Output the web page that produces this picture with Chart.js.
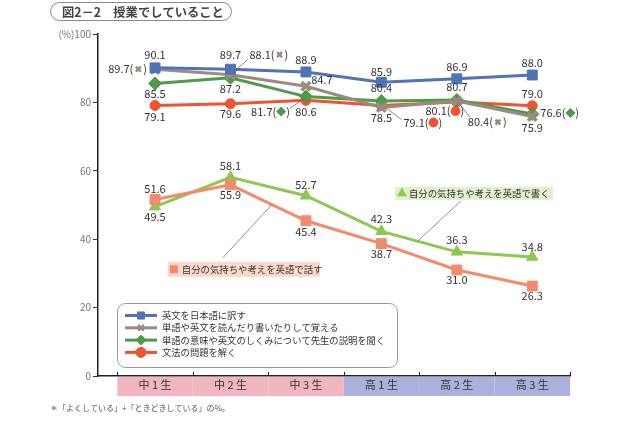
<!DOCTYPE html>
<html><head><meta charset="utf-8">
<script src="https://cdn.jsdelivr.net/npm/chart.js@4.4.1/dist/chart.umd.min.js"></script>
<style>html,body{margin:0;padding:0;background:#fff}canvas{display:block}</style>
</head><body>
<canvas id="c" width="640" height="426"></canvas>
<script>
// ---- data ----
const categories = ['中 1 生','中 2 生','中 3 生','高 1 生','高 2 生','高 3 生'];
const yTickValues = [0, 20, 40, 60, 80, 100];
const seriesNames = [
  '英文を日本語に訳す',
  '単語や英文を読んだり書いたりして覚える',
  '単語の意味や英文のしくみについて先生の説明を聞く',
  '文法の問題を解く',
  '自分の気持ちや考えを英語で話す',
  '自分の気持ちや考えを英語で書く'
];
const translateJp = [90.1, 89.7, 88.9, 85.9, 86.9, 88.0];
const memorize    = [89.7, 88.1, 84.7, 78.5, 80.4, 75.9];
const listenExpl  = [85.5, 87.2, 81.7, 80.4, 80.7, 76.6];
const grammar     = [79.1, 79.6, 80.6, 79.1, 80.1, 79.0];
const speakOwn    = [51.6, 55.9, 45.4, 38.7, 31.0, 26.3];
const writeOwn    = [49.5, 58.1, 52.7, 42.3, 36.3, 34.8];
const titleText = '図2－2　授業でしていること';
const noteText = '＊「よくしている」+「ときどきしている」の%。';

// ---- styles ----
const colors = ['#4f73b6','#9b8b7e','#4c9b49','#ef5331','#f48a6c','#8dc852'];
const styles = [
  {pointStyle:'rect', pointRadius:7, pointBorderWidth:1},
  {pointStyle:'crossRot', pointRadius:6, pointBorderWidth:3.5},
  {pointStyle:'rectRot', pointRadius:6.5, pointBorderWidth:1},
  {pointStyle:'circle', pointRadius:5, pointBorderWidth:1},
  {pointStyle:'rect', pointRadius:7, pointBorderWidth:1},
  {pointStyle:'triangle', pointRadius:6.5, pointBorderWidth:1}
];
const labelSpecs = [
  [{dy:-13},{dy:-14},{dy:-12},{dy:-10},{dy:-12},{dy:-12}],
  [{dx:-8,align:'right',mark:true},{dx:19,dy:-20,align:'left',mark:true,lead:[2,-2,17,-15]},{dx:16,dy:-7},{dy:10},{dx:11,dy:21,align:'left',mark:true,lead:[1,1,13,16]},{dy:11}],
  [{dy:10},{dy:11},{dx:-16,dy:15,align:'right',mark:true,lead:[-2,2,-16,12]},{dy:-13},{dy:-13},{dx:8,dy:-1,align:'left',mark:true}],
  [{dy:11},{dy:10},{dy:11},{dx:22,dy:17,align:'left',mark:true,lead:[4,2,20,14]},{dx:-12,dy:9,mark:true},{dy:-12}],
  [{dy:-11},{dy:10},{dy:11},{dy:10},{dy:10},{dy:10}],
  [{dy:10},{dy:-11},{dy:-11},{dy:-13},{dy:-12},{dy:-10}]
];
const FONT = '"Noto Sans CJK JP","Noto Sans",sans-serif';

const allSeries = [translateJp, memorize, listenExpl, grammar, speakOwn, writeOwn];
const datasets = allSeries.map((arr, i) => ({
  label: seriesNames[i],
  data: arr.map((v, j) => ({x: j, y: v})),
  borderColor: colors[i],
  backgroundColor: colors[i],
  pointBackgroundColor: colors[i],
  pointBorderColor: colors[i],
  borderWidth: 3,
  tension: 0,
  clip: false,
  ...styles[i]
}));

function drawMarker(ctx, ds, x, y, r) {
  ctx.save();
  ctx.fillStyle = ds.backgroundColor;
  ctx.strokeStyle = ds.borderColor;
  ctx.lineWidth = ds.pointStyle === 'crossRot' ? 2.5 : 1;
  Chart.helpers.drawPoint(ctx, {pointStyle: ds.pointStyle, radius: r, borderWidth: ctx.lineWidth, rotation: 0}, x, y);
  ctx.restore();
}

const decorPlugin = {
  id: 'decor',
  beforeDraw(chart) {
    const {ctx, chartArea: ca, scales: {x: xs}} = chart;
    ctx.save();
    // category bands
    categories.forEach((c, i) => {
      const x0 = xs.getPixelForValue(i - 0.5), x1 = xs.getPixelForValue(i + 0.5);
      ctx.fillStyle = i < 3 ? '#f3b6be' : '#abb0dd';
      ctx.fillRect(x0, ca.bottom + 1, x1 - x0, 19);
      ctx.fillStyle = '#333';
      ctx.font = '11px ' + FONT;
      ctx.textAlign = 'center'; ctx.textBaseline = 'middle';
      ctx.fillText(c, (x0 + x1) / 2, ca.bottom + 9);
    });
    // title pill
    ctx.strokeStyle = '#8a8a8a'; ctx.lineWidth = 1;
    ctx.beginPath();
    ctx.roundRect(50.5, 2.5, 181, 18, 9);
    ctx.stroke();
    ctx.fillStyle = '#444';
    ctx.font = 'bold 13px ' + FONT;
    const tw = ctx.measureText(titleText).width;
    const fs = Math.min(14, 13 * 162 / tw);
    ctx.font = 'bold ' + fs.toFixed(2) + 'px ' + FONT;
    ctx.textAlign = 'left'; ctx.textBaseline = 'middle';
    ctx.fillText(titleText, 62, 12);
    // note
    ctx.fillStyle = '#555';
    ctx.font = '8px ' + FONT;
    ctx.fillText(noteText, 50, 408);
    ctx.restore();
  },
  afterDraw(chart) {
    const {ctx, chartArea: ca, scales: {x: xs}} = chart;
    ctx.save();
    ctx.strokeStyle = '#222'; ctx.lineWidth = 1;
    for (let i = 0; i <= categories.length; i++) {
      const x = Math.round(xs.getPixelForValue(i - 0.5)) + 0.5;
      ctx.beginPath(); ctx.moveTo(x, ca.bottom); ctx.lineTo(x, ca.bottom - 4); ctx.stroke();
    }
    ctx.restore();
  },
  afterDatasetsDraw(chart) {
    const {ctx, chartArea: ca, scales: {x: xs, y: ys}} = chart;
    const dss = chart.data.datasets;
    ctx.save();
    // data labels
    ctx.font = '11px ' + FONT;
    ctx.textBaseline = 'middle';
    dss.forEach((ds, i) => {
      const meta = chart.getDatasetMeta(i);
      meta.data.forEach((pt, j) => {
        const s = labelSpecs[i][j];
        const x = pt.x + (s.dx || 0), y = pt.y + (s.dy || 0);
        const txt = ds.data[j].y.toFixed(1);
        if (s.lead) {
          ctx.strokeStyle = '#666'; ctx.lineWidth = 0.8;
          ctx.beginPath();
          ctx.moveTo(pt.x + s.lead[0], pt.y + s.lead[1]);
          ctx.lineTo(pt.x + s.lead[2], pt.y + s.lead[3]);
          ctx.stroke();
        }
        ctx.fillStyle = '#333';
        if (s.mark) {
          const a = txt + '(', b = ')';
          const wa = ctx.measureText(a).width, wm = 10, wb = ctx.measureText(b).width;
          const tot = wa + wm + wb;
          const left = s.align === 'left' ? x : s.align === 'right' ? x - tot : x - tot / 2;
          ctx.textAlign = 'left';
          ctx.fillText(a, left, y);
          drawMarker(ctx, ds, left + wa + wm / 2, y, ds.pointStyle === 'crossRot' ? 3.5 : 4.5);
          ctx.fillStyle = '#333';
          ctx.fillText(b, left + wa + wm, y);
        } else {
          ctx.textAlign = s.align || 'center';
          ctx.fillText(txt, x, y);
        }
      });
    });
    // legend box for first four series
    const lx = ca.left + 19, ly = ca.top + 269;
    ctx.strokeStyle = '#999'; ctx.lineWidth = 1;
    ctx.beginPath(); ctx.roundRect(lx + 0.5, ly + 0.5, 280, 64, 8); ctx.stroke();
    ctx.font = '9.3px ' + FONT; ctx.textAlign = 'left'; ctx.textBaseline = 'middle';
    for (let i = 0; i < 4; i++) {
      const ds = dss[i];
      const yy = ly + 12.5 + i * 12.3;
      ctx.strokeStyle = ds.borderColor; ctx.lineWidth = 3;
      ctx.beginPath(); ctx.moveTo(lx + 8, yy); ctx.lineTo(lx + 40, yy); ctx.stroke();
      drawMarker(ctx, ds, lx + 24, yy, ds.pointStyle === 'crossRot' ? 4 : 5);
      ctx.fillStyle = '#333';
      ctx.fillText(ds.label, lx + 45, yy);
    }
    // callout boxes for series 5 and 6
    const callouts = [
      {i: 4, bx: xs.getPixelForValue(0.17), by: ys.getPixelForValue(33.4), w: 152, h: 15, bg: '#fcd8cb',
       anchorX: 55, seg: [1, 2, 0.55]},
      {i: 5, bx: xs.getPixelForValue(3.18), by: ys.getPixelForValue(55.3), w: 158, h: 13, bg: '#e1efcd',
       anchorX: 66, seg: [3, 4, 0.48]}
    ];
    callouts.forEach(c => {
      const ds = dss[c.i];
      const meta = chart.getDatasetMeta(c.i);
      const p0 = meta.data[c.seg[0]], p1 = meta.data[c.seg[1]];
      const tx = p0.x + (p1.x - p0.x) * c.seg[2], ty = p0.y + (p1.y - p0.y) * c.seg[2];
      ctx.fillStyle = c.bg;
      ctx.fillRect(c.bx, c.by, c.w, c.h);
      // leader
      ctx.strokeStyle = '#777'; ctx.lineWidth = 0.8;
      ctx.beginPath();
      const sy = c.i === 4 ? c.by - 4 : c.by + c.h + 1;
      ctx.moveTo(c.bx + c.anchorX, sy);
      ctx.lineTo(tx, ty);
      ctx.stroke();
      // marker
      ctx.fillStyle = ds.backgroundColor;
      const my = c.by + c.h / 2;
      if (ds.pointStyle === 'rect') {
        ctx.fillRect(c.bx + 2, my - 4, 8, 8);
      } else {
        drawMarker(ctx, ds, c.bx + 7, my, 5);
      }
      ctx.fillStyle = '#333';
      ctx.font = '9.4px ' + FONT; ctx.textAlign = 'left'; ctx.textBaseline = 'middle';
      ctx.fillText(ds.label, c.bx + 14, my);
    });
    ctx.restore();
  }
};

new Chart(document.getElementById('c'), {
  type: 'line',
  data: {datasets},
  plugins: [decorPlugin],
  options: {
    responsive: false,
    devicePixelRatio: 1,
    animation: false,
    layout: {padding: {top: 34, left: 0, right: 70, bottom: 0}},
    plugins: {legend: {display: false}, tooltip: {enabled: false}},
    scales: {
      x: {
        type: 'linear', min: -0.756, max: 5.5,
        ticks: {display: false},
        grid: {display: false},
        border: {display: true, color: '#222', width: 1.5},
        afterFit: s => { s.height = 50; }
      },
      y: {
        min: 0, max: 100,
        afterBuildTicks: s => { s.ticks = yTickValues.map(v => ({value: v})); },
        ticks: {
          color: '#777', padding: 2,
          font: {size: 10, family: FONT},
          callback: v => (v === 100 ? '(%)100' : String(v))
        },
        grid: {drawOnChartArea: false, tickLength: 5, color: '#333', lineWidth: 1},
        border: {display: true, color: '#222', width: 1.5},
        afterFit: s => { s.width = 98; }
      }
    }
  }
});
</script>
</body></html>
